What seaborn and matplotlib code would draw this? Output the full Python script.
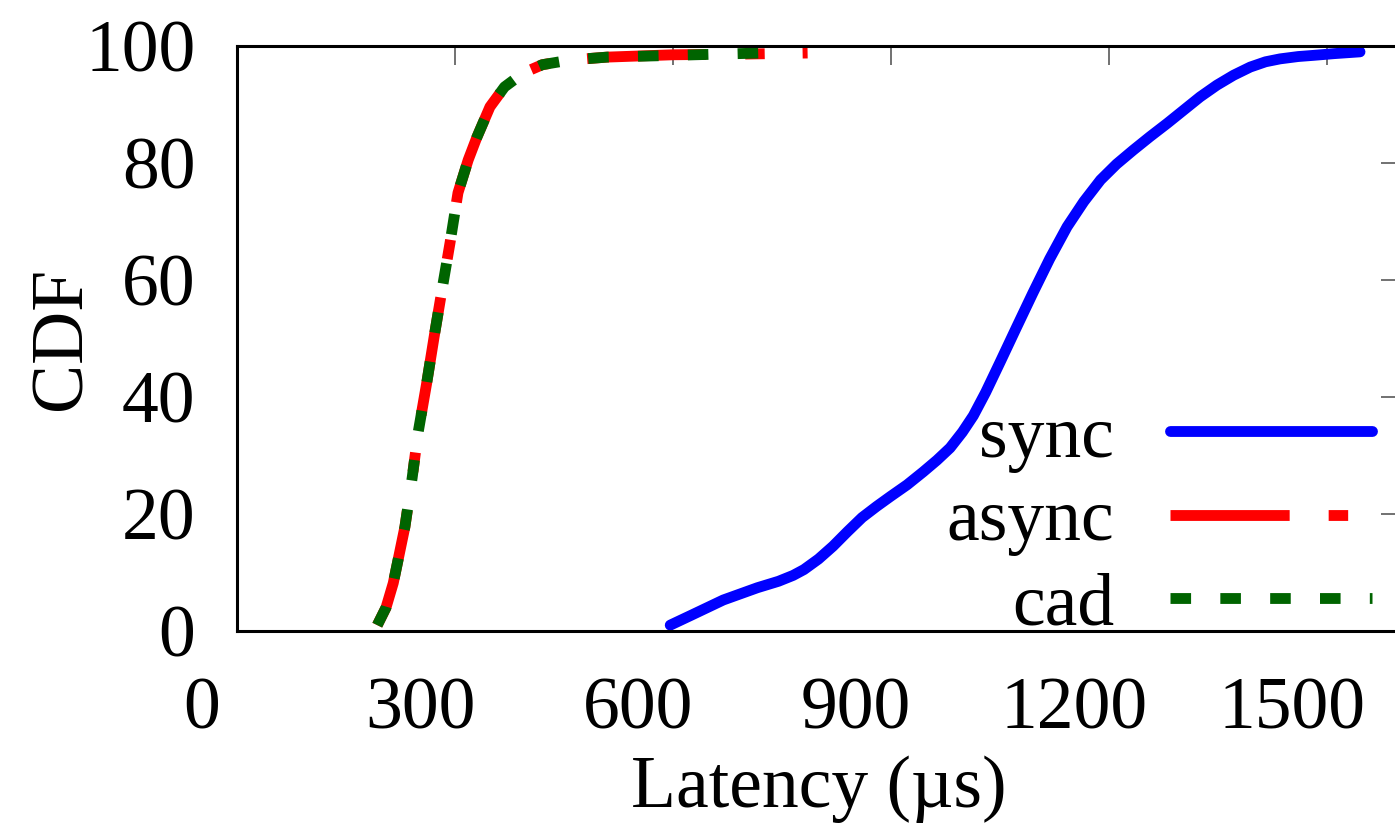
import seaborn as sns
import pandas as pd
import matplotlib.pyplot as plt
import matplotlib.transforms as mtransforms

#data (latency in us, cdf in percent)
sync_lat = [596, 625, 669, 716, 745, 765, 780, 800, 820, 840, 860, 880, 899, 922, 944,
            963, 981, 998, 1013, 1030, 1050, 1072, 1095, 1118, 1142, 1165, 1188, 1210,
            1233, 1256, 1280, 1302, 1325, 1348, 1371, 1394, 1415, 1435, 1460, 1481,
            1510, 1545]
sync_cdf = [1.0, 2.7, 5.3, 7.4, 8.5, 9.5, 10.5, 12.3, 14.5, 17.0, 19.4, 21.3, 23.0, 25.0,
            27.2, 29.2, 31.3, 34.0, 36.8, 40.8, 46.0, 51.8, 57.8, 63.6, 69.1, 73.4, 77.1,
            79.8, 82.2, 84.5, 86.8, 89.0, 91.3, 93.3, 95.0, 96.4, 97.3, 97.8, 98.2, 98.4,
            98.7, 99.0]

async_lat = [193, 205, 215, 231, 241, 249, 261, 272, 282, 293, 304, 318, 330,
             348, 368, 394, 420, 458, 509, 600, 690, 785]
async_cdf = [1.0, 4.0, 8.2, 17.8, 26.2, 33.8, 42.4, 50.9, 58.3, 66.3, 74.9, 80.5, 84.4,
             89.6, 93.0, 95.4, 96.8, 97.6, 98.1, 98.5, 98.6, 98.8]

cad_lat = [193, 205, 215, 231, 241, 249, 261, 272, 282, 293, 304, 318, 330,
           348, 368, 394, 420, 458, 509, 600, 660, 722]
cad_cdf = [1.0, 4.0, 8.2, 17.8, 26.2, 33.8, 42.4, 50.9, 58.3, 66.3, 74.9, 80.5, 84.4,
           89.6, 93.0, 95.4, 96.8, 97.6, 98.1, 98.4, 98.6, 98.8]

x_ticks = [0, 300, 600, 900, 1200, 1500]
y_ticks = [0, 20, 40, 60, 80, 100]

df_sync = pd.DataFrame({'latency': sync_lat, 'cdf': sync_cdf})
df_async = pd.DataFrame({'latency': async_lat, 'cdf': async_cdf})
df_cad = pd.DataFrame({'latency': cad_lat, 'cdf': cad_cdf})

#theme and fonts
sns.set_theme(style='white')
plt.rcParams['font.family'] = ['Liberation Serif', 'DejaVu Serif']
plt.rcParams['text.color'] = 'black'
plt.rcParams['axes.labelcolor'] = 'black'
fs = 53

fig = plt.figure(figsize=(13.95, 8.3), dpi=100)
ax = fig.add_axes([237/1395, 199/830, 1163/1395, 585/830])

lw = 7.8
sns.lineplot(df_sync, x='latency', y='cdf', ax=ax, color='#0000ff', lw=lw,
             label='sync', estimator=None, sort=False)
sns.lineplot(df_async, x='latency', y='cdf', ax=ax, color='#ff0000', lw=lw,
             label='async', estimator=None, sort=False,
             dashes=(11.0, 3.6, 1.8, 3.5))
sns.lineplot(df_cad, x='latency', y='cdf', ax=ax, color='#006400', lw=lw,
             label='cad', estimator=None, sort=False, dashes=(1.9, 2.7))

#axes limits and ticks
ax.set_xlim(0, 1600)
ax.set_ylim(0, 100)
ax.set_xticks(x_ticks)
ax.set_yticks(y_ticks)
ax.tick_params(direction='in', length=14, width=1.2, color='0.35', labelcolor='black',
               top=True, right=True, labelsize=fs, pad=30)
ax.tick_params(axis='x', pad=33)
for s in ax.spines.values():
    s.set_color('black')
    s.set_linewidth(2.2)

#latency labels sit a bit left of their ticks in the reference
for lab in ax.get_xticklabels():
    lab.set_transform(lab.get_transform() +
                      mtransforms.ScaledTranslation(-0.35, 0, fig.dpi_scale_trans))

ax.set_xlabel('Latency (µs)', fontsize=fs, labelpad=8)
ax.set_ylabel('CDF', fontsize=fs, labelpad=-8)

#legend text left of the samples
ax.legend(loc='lower right', bbox_to_anchor=(1372/1395, 190/830),
          bbox_transform=fig.transFigure, frameon=False, fontsize=fs,
          markerfirst=False, handlelength=2.75, handletextpad=0.75,
          labelspacing=0.22, borderpad=0, borderaxespad=0)

fig.savefig('out.png', dpi=100)

if __name__ == '__main__':
    plt.show()
